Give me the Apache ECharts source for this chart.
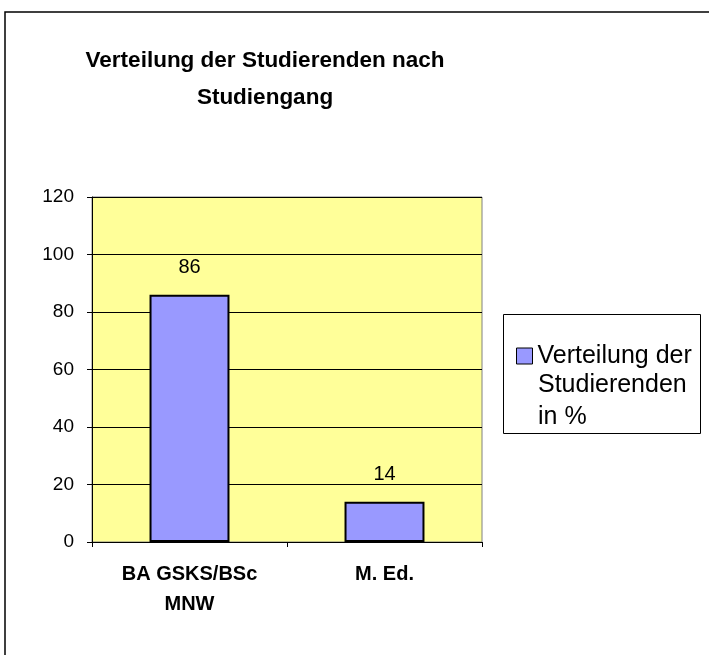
<!DOCTYPE html>
<html>
<head>
<meta charset="utf-8">
<script src="https://cdn.jsdelivr.net/npm/echarts@6/dist/echarts.min.js"></script>
<style>html,body{margin:0;padding:0;background:#fff}#c{width:709px;height:655px}</style>
</head>
<body>
<div id="c"></div>
<script>
var titleText = 'Verteilung der Studierenden nach\nStudiengang';
var categories = ['BA GSKS/BSc\nMNW', 'M. Ed.'];
var seriesName = 'Verteilung der Studierenden in %';
var legendLine1 = 'Verteilung der';
var legendRest = 'Studierenden\nin %';
var values = [86, 14];
var yTicks = {min: 0, max: 120, interval: 20};

var chart = echarts.init(document.getElementById('c'), null, {renderer: 'canvas'});
chart.setOption({
  animation: false,
  backgroundColor: '#ffffff',
  textStyle: {fontFamily: 'Liberation Sans'},
  title: {
    text: titleText,
    left: 265, top: 42, textAlign: 'center', padding: 0,
    textStyle: {fontFamily: 'Liberation Sans', fontWeight: 'bold', fontSize: 22.5, lineHeight: 37, color: '#000'}
  },
  legend: {
    data: [seriesName],
    orient: 'vertical',
    left: 516, top: 341,
    padding: 0,
    itemWidth: 16, itemHeight: 16, itemGap: 0,
    icon: 'rect',
    formatter: function () { return legendLine1; },
    itemStyle: {borderColor: '#000', borderWidth: 1},
    textStyle: {fontFamily: 'Liberation Sans', fontSize: 25, lineHeight: 30, color: '#000'}
  },
  grid: {left: 92, top: 197, right: 227, bottom: 113, show: true, backgroundColor: '#FFFF99', borderColor: '#808080', borderWidth: 1},
  xAxis: {
    type: 'category', data: categories,
    axisLine: {lineStyle: {color: '#000', width: 1}},
    axisTick: {show: true, length: 5, lineStyle: {color: '#000'}},
    axisLabel: {fontFamily: 'Liberation Sans', fontWeight: 'bold', fontSize: 20, color: '#000', margin: 17, lineHeight: 30}
  },
  yAxis: {
    type: 'value', min: yTicks.min, max: yTicks.max, interval: yTicks.interval,
    axisLine: {show: true, lineStyle: {color: '#000', width: 1}},
    axisTick: {show: true, length: 5, lineStyle: {color: '#000'}},
    axisLabel: {fontFamily: 'Liberation Sans', fontSize: 19, color: '#000', margin: 18},
    splitLine: {show: true, lineStyle: {color: '#000', width: 1}}
  },
  series: [{
    name: seriesName, type: 'bar', data: values, barWidth: '41%',
    itemStyle: {color: '#9999FF', borderColor: '#000', borderWidth: 2},
    label: {show: true, position: 'top', distance: 17, fontFamily: 'Liberation Sans', fontSize: 20, color: '#000'}
  }],
  graphic: [
    {type: 'rect', shape: {x: 503.5, y: 314.5, width: 197, height: 119},
     style: {fill: '#fff', stroke: '#000', lineWidth: 1}, silent: true, z: 0},
    {type: 'text', x: 538, y: 369,
     style: {text: legendRest, font: '25px "Liberation Sans"', lineHeight: 32, fill: '#000'}, silent: true, z: 10},
    {type: 'rect', shape: {x: 5, y: 12, width: 800, height: 800},
     style: {fill: 'none', stroke: '#000', lineWidth: 1.5}, silent: true, z: 100}
  ]
});
</script>
</body>
</html>
